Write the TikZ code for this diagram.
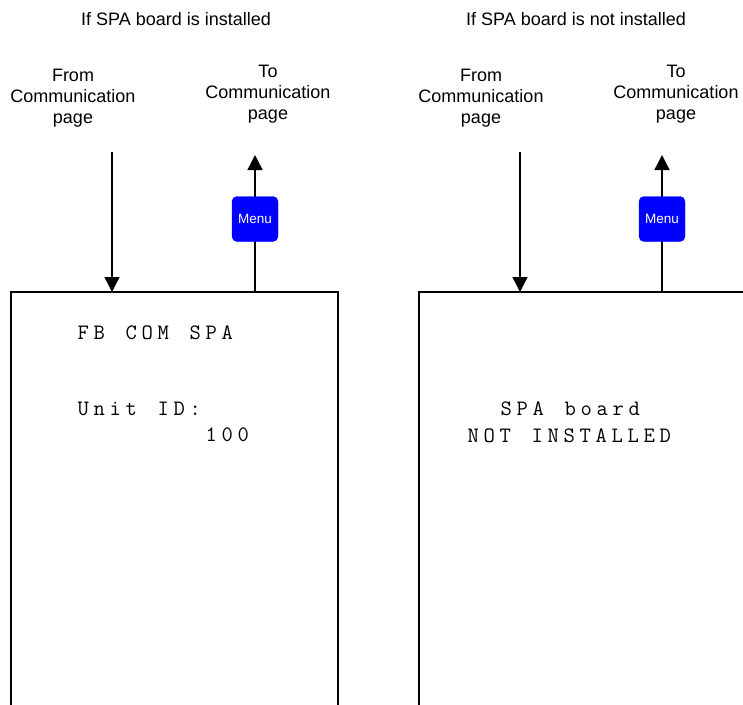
\documentclass[tikz,border=0pt]{standalone}
\usepackage{fontspec}
\setsansfont{Liberation Sans}
\usetikzlibrary{arrows.meta}

% one fixed cell per character, like the panel display
\ExplSyntaxOn
\NewDocumentCommand\lcdline{m}{\str_map_inline:nn {#1} {\makebox[16pt][c]{##1}}}
\ExplSyntaxOff

\begin{document}
\begin{tikzpicture}[x=1pt,y=-1pt,>={Triangle[length=15pt,width=15pt]},
  caption/.style={font=\sffamily\fontsize{18}{21}\selectfont,align=center,anchor=base,inner sep=0pt},
  menubtn/.style={draw=blue,fill=blue,rounded corners=5pt,minimum width=46pt,minimum height=45pt,
    inner sep=0pt,text=white,font=\sffamily\fontsize{13.5}{15}\selectfont},
  lcd/.style={font=\ttfamily\fontsize{22}{26}\selectfont,anchor=base west,inner sep=0pt},
  frame/.style={line width=1.5pt},
  flow/.style={line width=1.5pt,->}]

\useasboundingbox (0,0) rectangle (743,704);

% ---------------- LEFT: SPA board installed ----------------
\node[caption] (titleL) at (176,25) {If SPA board is installed};
\node[caption] (fromL) at (73,123) {From\\Communication\\page};
\node[caption] (toL) at (268,119) {To\\Communication\\page};

\coordinate (inL) at (112,152);
\coordinate (inTipL) at (112,292);
\coordinate (outL) at (255,292);
\coordinate (outTipL) at (255,155);

% screen
\draw[frame] (11,705) -- (11,292) -- (338,292) -- (338,705);

\draw[flow] (inL) -- (inTipL);
\draw[flow] (outL) -- (outTipL);
\node[menubtn] (menuL) at (255,219) {Menu};

\node[lcd] (headL) at (75,339) {\lcdline{FB COM SPA}};
\node[lcd] (idL) at (75,415) {\lcdline{Unit ID:}};
\node[lcd] (valL) at (203,441) {\lcdline{100}};

% ---------------- RIGHT: SPA board not installed ----------------
\node[caption] (titleR) at (576,25) {If SPA board is not installed};
\node[caption] (fromR) at (481,123) {From\\Communication\\page};
\node[caption] (toR) at (676,119) {To\\Communication\\page};

\coordinate (inR) at (520,152);
\coordinate (inTipR) at (520,292);
\coordinate (outR) at (662,292);
\coordinate (outTipR) at (662,155);

% screen
\draw[frame] (419,705) -- (419,292) -- (744,292);

\draw[flow] (inR) -- (inTipR);
\draw[flow] (outR) -- (outTipR);
\node[menubtn] (menuR) at (662,219) {Menu};

\node[lcd] (msgR) at (498,415) {\lcdline{SPA board}};
\node[lcd] (msgR2) at (465,442) {\lcdline{NOT INSTALLED}};

\end{tikzpicture}
\end{document}
